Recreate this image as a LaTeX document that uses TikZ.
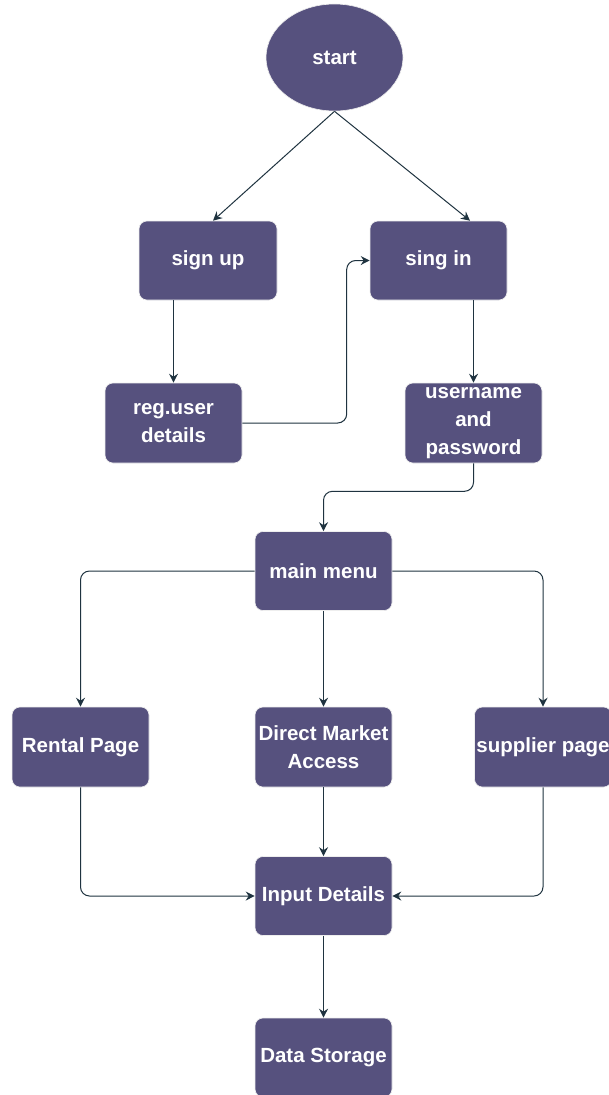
\documentclass[tikz,border=0pt]{standalone}
\usepackage{fontspec}
\setmainfont{Liberation Sans}
\usetikzlibrary{shapes.geometric,arrows.meta}
\definecolor{boxfill}{HTML}{56517E}
\definecolor{boxline}{HTML}{EEEEEE}
\definecolor{edgecol}{HTML}{1F3340}
\tikzset{
  box/.style={draw=boxline, line width=0.6pt, fill=boxfill, rounded corners=8pt,
    minimum width=137pt, minimum height=79pt, inner sep=0pt, align=center,
    text=white, font=\fontsize{20.5}{28}\selectfont\bfseries},
  oval/.style={ellipse, draw=boxline, line width=0.6pt, fill=boxfill,
    minimum width=137pt, minimum height=107pt, inner sep=0pt,
    text=white, font=\fontsize{20.5}{28}\selectfont\bfseries},
  conn/.style={draw=edgecol, line width=1pt, rounded corners=9pt,
    -{Stealth[length=9pt,width=9pt,inset=3pt]}}
}
\begin{document}
\begin{tikzpicture}[x=1pt,y=-1pt]
\fill[white] (0,0) rectangle (608,1095);
\useasboundingbox (0,0) rectangle (608,1095);

\node[oval] (start) at (334.5,57.5) {start};
\node[box, minimum width=138pt] (signup) at (208,260.5) {sign up};
\node[box] (singin) at (438.5,260.5) {sing in};
\node[box, minimum height=80pt] (reg) at (173.5,423) {reg.user\\details};
\node[box, minimum height=80pt] (user) at (473.5,423) {username\\and\\password};
\node[box] (main) at (323.5,571) {main menu};
\node[box, minimum height=80pt] (rental) at (80.5,747) {Rental Page};
\node[box, minimum height=80pt] (dma) at (323.5,747) {Direct Market\\Access};
\node[box, minimum height=80pt] (supp) at (543,747) {supplier page};
\node[box] (input) at (323.5,896) {Input Details};
\node[box] (data) at (323.5,1057.5) {Data Storage};

\draw[conn] (start.south) -- ([xshift=5pt]signup.north);
\draw[conn] (start.south) -- ([xshift=31.5pt]singin.north);
\draw[conn] (signup.south -| reg.north) -- (reg.north);
\draw[conn] (reg.east) -| ([xshift=-23pt]singin.west) -- (singin.west);
\draw[conn] (singin.south -| user.north) -- (user.north);
\draw[conn] (user.south) -- ++(0,28) -| (main.north);
\draw[conn] (main.west) -| (rental.north);
\draw[conn] (main.east) -| (supp.north);
\draw[conn] (main.south) -- (dma.north);
\draw[conn] (rental.south) |- (input.west);
\draw[conn] (supp.south) |- (input.east);
\draw[conn] (dma.south) -- (input.north);
\draw[conn] (input.south) -- (data.north);
\end{tikzpicture}
\end{document}
